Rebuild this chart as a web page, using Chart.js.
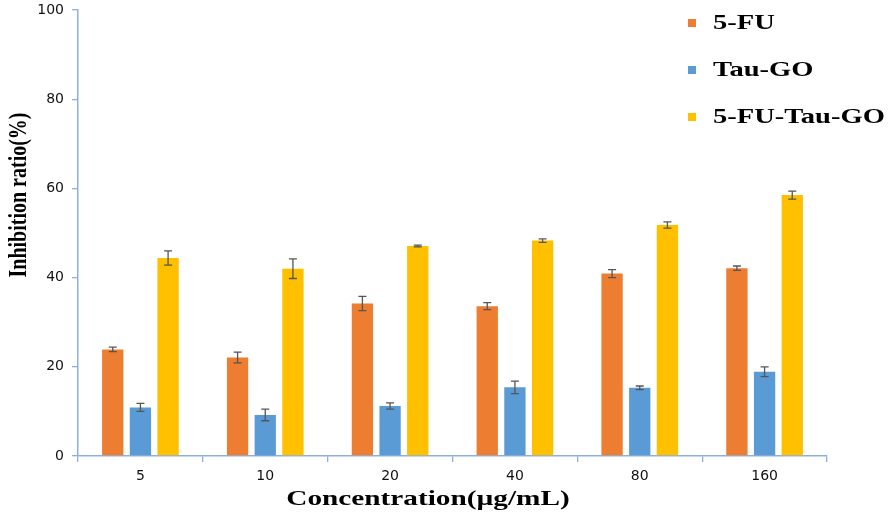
<!DOCTYPE html>
<html>
<head>
<meta charset="utf-8">
<script src="https://cdn.jsdelivr.net/npm/chart.js@4.4.0/dist/chart.umd.min.js"></script>
<style>
  html, body { margin: 0; padding: 0; background: #fff; }
</style>
</head>
<body>
<canvas id="myBarChart" width="896" height="518"></canvas>
<script>
var categories = ["5", "10", "20", "40", "80", "160"];
var fuValues = [23.9, 22.1, 34.2, 33.6, 40.9, 42.1];
var tauValues = [10.9, 9.2, 11.2, 15.4, 15.3, 18.9];
var comboValues = [44.4, 42.0, 47.1, 48.3, 51.8, 58.5];
var fuErrors = [0.5, 1.2, 1.6, 0.8, 0.9, 0.5];
var tauErrors = [0.9, 1.3, 0.7, 1.4, 0.4, 1.1];
var comboErrors = [1.6, 2.2, 0.2, 0.4, 0.7, 0.9];
var yTicks = [0, 20, 40, 60, 80, 100];

var serif = "'Liberation Serif', 'Times New Roman', serif";

// error bars drawn from each bar's own position
var errorBars = {
  id: "errorBars",
  afterDatasetsDraw: function(chart) {
    var ctx = chart.ctx;
    var y = chart.scales.y;
    ctx.save();
    ctx.strokeStyle = "#555";
    ctx.lineWidth = 1.3;
    chart.data.datasets.forEach(function(ds, i) {
      var meta = chart.getDatasetMeta(i);
      meta.data.forEach(function(bar, j) {
        var v = ds.data[j], e = ds.errors[j];
        var top = y.getPixelForValue(v + e);
        var bot = y.getPixelForValue(v - e);
        ctx.beginPath();
        ctx.moveTo(bar.x, top); ctx.lineTo(bar.x, bot);
        ctx.moveTo(bar.x - 4, top); ctx.lineTo(bar.x + 4, top);
        ctx.moveTo(bar.x - 4, bot); ctx.lineTo(bar.x + 4, bot);
        ctx.stroke();
      });
    });
    ctx.restore();
  }
};

// legend and axis titles (the original picture is stretched sideways)
var labelsPlugin = {
  id: "labelsPlugin",
  afterDraw: function(chart) {
    var ctx = chart.ctx;
    var rows = [23, 70, 117];
    chart.data.datasets.forEach(function(ds, i) {
      ctx.save();
      ctx.fillStyle = ds.backgroundColor;
      ctx.fillRect(688, rows[i] - 4, 8, 8);
      ctx.fillStyle = "#000";
      ctx.font = "bold 21px " + serif;
      ctx.textBaseline = "middle";
      ctx.textAlign = "left";
      ctx.translate(713, rows[i] + 1);
      ctx.scale(1.36, 1);
      ctx.fillText(ds.label, 0, 0);
      ctx.restore();
    });
    ctx.save();
    ctx.fillStyle = "#000";
    ctx.textBaseline = "middle";
    ctx.textAlign = "center";
    ctx.font = "bold 22px " + serif;
    ctx.translate(428, 499);
    ctx.scale(1.33, 1);
    ctx.fillText("Concentration(\u00b5g/mL)", 0, 0);
    ctx.restore();
    ctx.save();
    ctx.fillStyle = "#000";
    ctx.textBaseline = "middle";
    ctx.textAlign = "center";
    ctx.translate(19, 195);
    ctx.rotate(-Math.PI / 2);
    ctx.scale(1, 1.3);
    ctx.font = "bold 20px " + serif;
    ctx.fillText("Inhibition ratio(%)", 0, 0);
    ctx.restore();
  }
};

var ctx = document.getElementById("myBarChart");
var myChart = new Chart(ctx, {
  type: "bar",
  data: {
    labels: categories,
    datasets: [
      { label: "5-FU", data: fuValues, errors: fuErrors, backgroundColor: "#ED7D31" },
      { label: "Tau-GO", data: tauValues, errors: tauErrors, backgroundColor: "#5B9BD5" },
      { label: "5-FU-Tau-GO", data: comboValues, errors: comboErrors, backgroundColor: "#FFC000" }
    ]
  },
  options: {
    responsive: false,
    animation: false,
    datasets: {
      bar: { categoryPercentage: 0.665, barPercentage: 0.77 }
    },
    plugins: {
      legend: { display: false },
      tooltip: { enabled: false }
    },
    layout: {
      padding: { top: 10, left: 0, right: 69, bottom: 0 }
    },
    scales: {
      x: {
        afterFit: function(scale) {
          scale.height = 62;
          scale.paddingLeft = 0;
          scale.paddingRight = 0;
        },
        grid: {
          offset: true,
          drawOnChartArea: false,
          tickLength: 6,
          color: "#8eb0dd",
          lineWidth: 1.3
        },
        border: { color: "#8eb0dd", width: 1.5 },
        ticks: {
          color: "#111",
          padding: 6,
          font: { family: "'DejaVu Sans', Verdana, sans-serif", size: 14 }
        }
      },
      y: {
        min: 0,
        max: 100,
        afterFit: function(scale) {
          scale.width = 78;
          scale.paddingTop = 0;
          scale.paddingBottom = 0;
        },
        afterBuildTicks: function(scale) {
          scale.ticks = yTicks.map(function(v) { return { value: v }; });
        },
        grid: {
          drawOnChartArea: false,
          tickLength: 6,
          color: "#8eb0dd",
          lineWidth: 1.3
        },
        border: { color: "#8eb0dd", width: 1.5 },
        ticks: {
          color: "#111",
          padding: 8,
          font: { family: "'DejaVu Sans', Verdana, sans-serif", size: 14 }
        }
      }
    }
  },
  plugins: [errorBars, labelsPlugin]
});
</script>
</body>
</html>
